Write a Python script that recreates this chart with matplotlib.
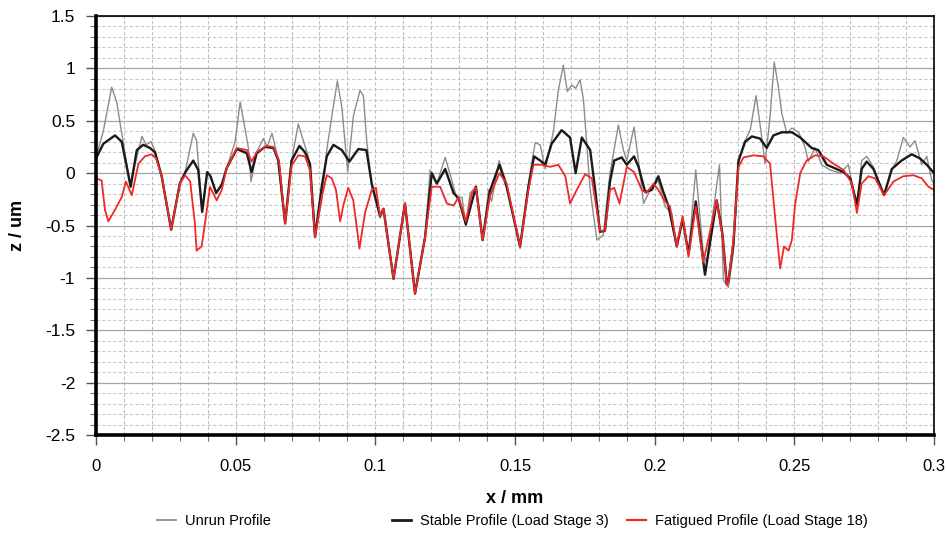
import matplotlib
matplotlib.use("Agg")
import matplotlib.pyplot as plt
from matplotlib.lines import Line2D
import numpy as np

# profile readings, x in mm, z in um
unrun_x = [
    0.0, 0.0026, 0.0056, 0.0074, 0.0092, 0.0122, 0.0164, 0.0180, 0.0197, 0.0210,
    0.0235, 0.0269, 0.0300, 0.0319, 0.0348, 0.0360, 0.0380, 0.0398, 0.0410, 0.0430,
    0.0450, 0.0468, 0.0498, 0.0516, 0.0545, 0.0555, 0.0575, 0.0599, 0.0612, 0.0630,
    0.0647, 0.0677, 0.0700, 0.0724, 0.0742, 0.0760, 0.0784, 0.0808, 0.0826, 0.0844,
    0.0864, 0.0880, 0.0901, 0.0921, 0.0945, 0.0957, 0.0969, 0.0987, 0.1017, 0.1029,
    0.1065, 0.1106, 0.1142, 0.1178, 0.1196, 0.1220, 0.1250, 0.1274, 0.1291, 0.1310,
    0.1324, 0.1339, 0.1360, 0.1384, 0.1405, 0.1416, 0.1443, 0.1470, 0.1518, 0.1548,
    0.1572, 0.1590, 0.1608, 0.1637, 0.1655, 0.1673, 0.1687, 0.1703, 0.1717, 0.1733,
    0.1745, 0.1769, 0.1793, 0.1816, 0.1840, 0.1870, 0.1888, 0.1900, 0.1926, 0.1942,
    0.1960, 0.1984, 0.2013, 0.2037, 0.2061, 0.2079, 0.2100, 0.2121, 0.2147, 0.2174,
    0.2186, 0.2210, 0.2232, 0.2246, 0.2264, 0.2282, 0.2300, 0.2318, 0.2342, 0.2363,
    0.2380, 0.2395, 0.2413, 0.2428, 0.2443, 0.2455, 0.2473, 0.2491, 0.2515, 0.2538,
    0.2550, 0.2574, 0.2598, 0.2628, 0.2664, 0.2693, 0.2724, 0.2741, 0.2759, 0.2783,
    0.2821, 0.2849, 0.2867, 0.2890, 0.2914, 0.2932, 0.2956, 0.2974, 0.2992, 0.3000,
]
unrun_z = [
    0.15, 0.40, 0.82, 0.68, 0.38, -0.11, 0.35, 0.27, 0.30, 0.22,
    -0.03, -0.54, -0.10, 0.01, 0.38, 0.31, -0.37, 0.01, -0.03, -0.19,
    -0.11, 0.05, 0.30, 0.68, 0.25, -0.08, 0.20, 0.33, 0.25, 0.38,
    0.19, -0.48, 0.12, 0.47, 0.31, 0.16, -0.61, -0.26, 0.22, 0.54,
    0.88, 0.63, 0.01, 0.54, 0.79, 0.74, 0.31, -0.13, -0.43, -0.34,
    -1.01, -0.29, -1.15, -0.61, 0.03, -0.10, 0.15, -0.07, -0.24, -0.23,
    -0.50, -0.19, -0.13, -0.64, -0.16, -0.27, 0.12, -0.10, -0.72, -0.10,
    0.29, 0.27, 0.04, 0.39, 0.79, 1.03, 0.78, 0.84, 0.81, 0.89,
    0.70, -0.16, -0.64, -0.59, 0.00, 0.46, 0.22, 0.12, 0.44, 0.12,
    -0.29, -0.16, -0.07, -0.32, -0.38, -0.70, -0.42, -0.77, 0.03, -0.77,
    -0.85, -0.35, 0.08, -1.02, -1.09, -0.74, 0.09, 0.28, 0.41, 0.74,
    0.41, 0.09, 0.54, 1.06, 0.82, 0.57, 0.38, 0.43, 0.39, 0.25,
    0.11, 0.24, 0.08, 0.03, 0.00, 0.08, -0.32, 0.12, 0.16, 0.06,
    -0.21, 0.03, 0.12, 0.34, 0.25, 0.31, 0.08, 0.16, -0.07, -0.10,
]

stable_x = [
    0.0, 0.0026, 0.0068, 0.0092, 0.0110, 0.0124, 0.0146, 0.0169, 0.0193, 0.0211,
    0.0235, 0.0269, 0.0300, 0.0320, 0.0348, 0.0366, 0.0380, 0.0398, 0.0410, 0.0430,
    0.0450, 0.0468, 0.0504, 0.0540, 0.0557, 0.0575, 0.0605, 0.0635, 0.0653, 0.0677,
    0.0700, 0.0728, 0.0748, 0.0766, 0.0784, 0.0808, 0.0826, 0.0850, 0.0880, 0.0907,
    0.0939, 0.0968, 0.0987, 0.1017, 0.1029, 0.1065, 0.1106, 0.1142, 0.1178, 0.1202,
    0.1220, 0.1250, 0.1280, 0.1298, 0.1324, 0.1360, 0.1384, 0.1410, 0.1444, 0.1470,
    0.1518, 0.1548, 0.1568, 0.1590, 0.1608, 0.1631, 0.1667, 0.1697, 0.1717, 0.1739,
    0.1769, 0.1787, 0.1804, 0.1822, 0.1840, 0.1855, 0.1882, 0.1900, 0.1926, 0.1942,
    0.1966, 0.1990, 0.2013, 0.2031, 0.2050, 0.2079, 0.2100, 0.2121, 0.2147, 0.2180,
    0.2222, 0.2243, 0.2258, 0.2264, 0.2282, 0.2300, 0.2324, 0.2348, 0.2377, 0.2401,
    0.2425, 0.2455, 0.2491, 0.2521, 0.2562, 0.2586, 0.2616, 0.2676, 0.2700, 0.2724,
    0.2741, 0.2759, 0.2783, 0.2821, 0.2849, 0.2884, 0.2920, 0.2950, 0.2974, 0.3000,
]
stable_z = [
    0.14, 0.28, 0.36, 0.30, 0.06, -0.13, 0.22, 0.27, 0.24, 0.20,
    -0.03, -0.54, -0.10, 0.01, 0.12, 0.03, -0.37, 0.01, -0.03, -0.19,
    -0.11, 0.05, 0.23, 0.19, 0.01, 0.19, 0.25, 0.24, 0.12, -0.48,
    0.12, 0.26, 0.20, 0.09, -0.61, -0.13, 0.16, 0.27, 0.22, 0.11,
    0.23, 0.22, -0.10, -0.41, -0.34, -1.01, -0.29, -1.15, -0.61, 0.00,
    -0.10, 0.04, -0.19, -0.24, -0.49, -0.13, -0.64, -0.17, 0.08, -0.13,
    -0.70, -0.13, 0.16, 0.12, 0.08, 0.28, 0.41, 0.34, 0.00, 0.34,
    0.22, -0.16, -0.56, -0.55, -0.08, 0.12, 0.15, 0.08, 0.16, 0.06,
    -0.18, -0.16, -0.03, -0.18, -0.32, -0.70, -0.44, -0.77, -0.27, -0.97,
    -0.26, -0.59, -1.06, -1.03, -0.67, 0.12, 0.30, 0.35, 0.33, 0.24,
    0.36, 0.39, 0.39, 0.34, 0.24, 0.22, 0.08, 0.01, -0.05, -0.30,
    0.04, 0.11, 0.04, -0.21, 0.04, 0.12, 0.18, 0.14, 0.08, 0.00,
]

fatigued_x = [
    0.0, 0.0020, 0.0032, 0.0044, 0.0068, 0.0092, 0.0107, 0.0128, 0.0152, 0.0175,
    0.0199, 0.0215, 0.0235, 0.0269, 0.0300, 0.0319, 0.0337, 0.0354, 0.0360, 0.0378,
    0.0390, 0.0408, 0.0432, 0.0450, 0.0468, 0.0504, 0.0540, 0.0557, 0.0575, 0.0610,
    0.0635, 0.0655, 0.0677, 0.0700, 0.0724, 0.0748, 0.0766, 0.0784, 0.0808, 0.0826,
    0.0844, 0.0859, 0.0874, 0.0886, 0.0903, 0.0921, 0.0943, 0.0963, 0.0987, 0.1002,
    0.1017, 0.1029, 0.1065, 0.1106, 0.1142, 0.1178, 0.1202, 0.1232, 0.1256, 0.1280,
    0.1298, 0.1324, 0.1346, 0.1360, 0.1384, 0.1410, 0.1444, 0.1470, 0.1518, 0.1548,
    0.1566, 0.1596, 0.1625, 0.1655, 0.1680, 0.1697, 0.1721, 0.1751, 0.1775, 0.1804,
    0.1822, 0.1840, 0.1855, 0.1874, 0.1900, 0.1926, 0.1954, 0.1970, 0.1996, 0.2013,
    0.2037, 0.2055, 0.2079, 0.2100, 0.2121, 0.2147, 0.2174, 0.2222, 0.2243, 0.2258,
    0.2264, 0.2282, 0.2300, 0.2318, 0.2354, 0.2389, 0.2413, 0.2431, 0.2449, 0.2463,
    0.2479, 0.2491, 0.2503, 0.2521, 0.2544, 0.2574, 0.2604, 0.2640, 0.2676, 0.2706,
    0.2724, 0.2741, 0.2765, 0.2789, 0.2821, 0.2855, 0.2890, 0.2926, 0.2956, 0.2980,
    0.3000,
]
fatigued_z = [
    -0.05, -0.07, -0.35, -0.46, -0.35, -0.23, -0.08, -0.21, 0.09, 0.16,
    0.18, 0.14, -0.03, -0.54, -0.10, -0.02, -0.08, -0.48, -0.74, -0.70,
    -0.48, -0.13, -0.26, -0.16, 0.05, 0.24, 0.22, 0.11, 0.20, 0.26,
    0.25, 0.12, -0.48, 0.07, 0.17, 0.16, 0.03, -0.61, -0.23, -0.02,
    -0.05, -0.16, -0.46, -0.30, -0.14, -0.26, -0.72, -0.38, -0.16, -0.14,
    -0.41, -0.34, -1.01, -0.29, -1.15, -0.61, -0.13, -0.13, -0.29, -0.31,
    -0.23, -0.46, -0.19, -0.14, -0.64, -0.22, 0.00, -0.10, -0.70, -0.16,
    0.08, 0.08, 0.06, 0.08, -0.03, -0.29, -0.16, -0.01, -0.05, -0.55,
    -0.55, -0.16, -0.14, -0.29, 0.06, 0.01, -0.16, -0.19, -0.10, -0.16,
    -0.27, -0.32, -0.70, -0.41, -0.80, -0.32, -0.85, -0.26, -0.61, -1.07,
    -1.03, -0.64, 0.06, 0.15, 0.17, 0.16, 0.09, -0.42, -0.91, -0.70,
    -0.74, -0.64, -0.29, 0.00, 0.12, 0.17, 0.16, 0.09, 0.03, -0.10,
    -0.38, -0.10, -0.03, -0.05, -0.21, -0.08, -0.03, -0.02, -0.05, -0.13,
    -0.16,
]

x_ticks = [0, 0.05, 0.1, 0.15, 0.2, 0.25, 0.3]
x_ticklabels = ['0', '0.05', '0.1', '0.15', '0.2', '0.25', '0.3']
y_ticks = [-2.5, -2, -1.5, -1, -0.5, 0, 0.5, 1, 1.5]
y_ticklabels = ['-2.5', '-2', '-1.5', '-1', '-0.5', '0', '0.5', '1', '1.5']

labels = ["Unrun Profile", "Stable Profile (Load Stage 3)", "Fatigued Profile (Load Stage 18)"]
colors = ["#8c8c8c", "#1a1a1a", "#f02828"]
widths = [1.0, 1.7, 1.3]

plt.rcParams['font.family'] = ['Liberation Sans', 'DejaVu Sans']

fig = plt.figure(figsize=(9.47, 5.38), dpi=100)
ax = fig.add_axes([0.1014, 0.1914, 0.8849, 0.7789])

ax.plot(unrun_x, unrun_z, color=colors[0], lw=widths[0])
ax.plot(stable_x, stable_z, color=colors[1], lw=widths[1])
ax.plot(fatigued_x, fatigued_z, color=colors[2], lw=widths[2])

ax.set_xlim(0, 0.3)
ax.set_ylim(-2.5, 1.5)
ax.set_xticks(x_ticks, x_ticklabels)
ax.set_yticks(y_ticks, y_ticklabels)
ax.set_xticks(np.round(np.arange(0, 0.3001, 0.01), 3), minor=True)
ax.set_yticks(np.round(np.arange(-2.5, 1.501, 0.1), 2), minor=True)

ax.grid(which='major', axis='y', color='#a6a6a6', lw=0.9, ls='-')
ax.grid(which='minor', axis='y', color='#c8c8c8', lw=0.8, ls=(0, (3, 2)))
ax.grid(which='both', axis='x', color='#bdbdbd', lw=0.8, ls=(0, (3, 2)))
ax.set_axisbelow(True)

ax.tick_params(axis='both', which='major', direction='out', length=7, width=1, color='#555555')
ax.tick_params(axis='both', which='minor', direction='out', length=4, width=0.8, color='#777777')
ax.tick_params(axis='x', which='major', labelsize=12, pad=10)
ax.tick_params(axis='y', which='major', labelsize=12.5, pad=8)

for side in ['left', 'bottom']:
    ax.spines[side].set_linewidth(2.6)
for side in ['top', 'right']:
    ax.spines[side].set_linewidth(1.2)

ax.set_xlabel('x / mm', fontsize=13, fontweight='bold', labelpad=12)
ax.set_ylabel('z / um', fontsize=13, fontweight='bold', labelpad=14)

anchors = [0.166, 0.414, 0.662]
for lab, col, lw, xa in zip(labels, colors, widths, anchors):
    h = Line2D([], [], color=col, lw=lw + 0.3)
    fig.legend([h], [lab], loc='center left', bbox_to_anchor=(xa, 0.032),
               frameon=False, handlelength=1.3, handletextpad=0.6,
               borderaxespad=0, borderpad=0, prop={'size': 10.5})

fig.savefig('out.png', dpi=100)
